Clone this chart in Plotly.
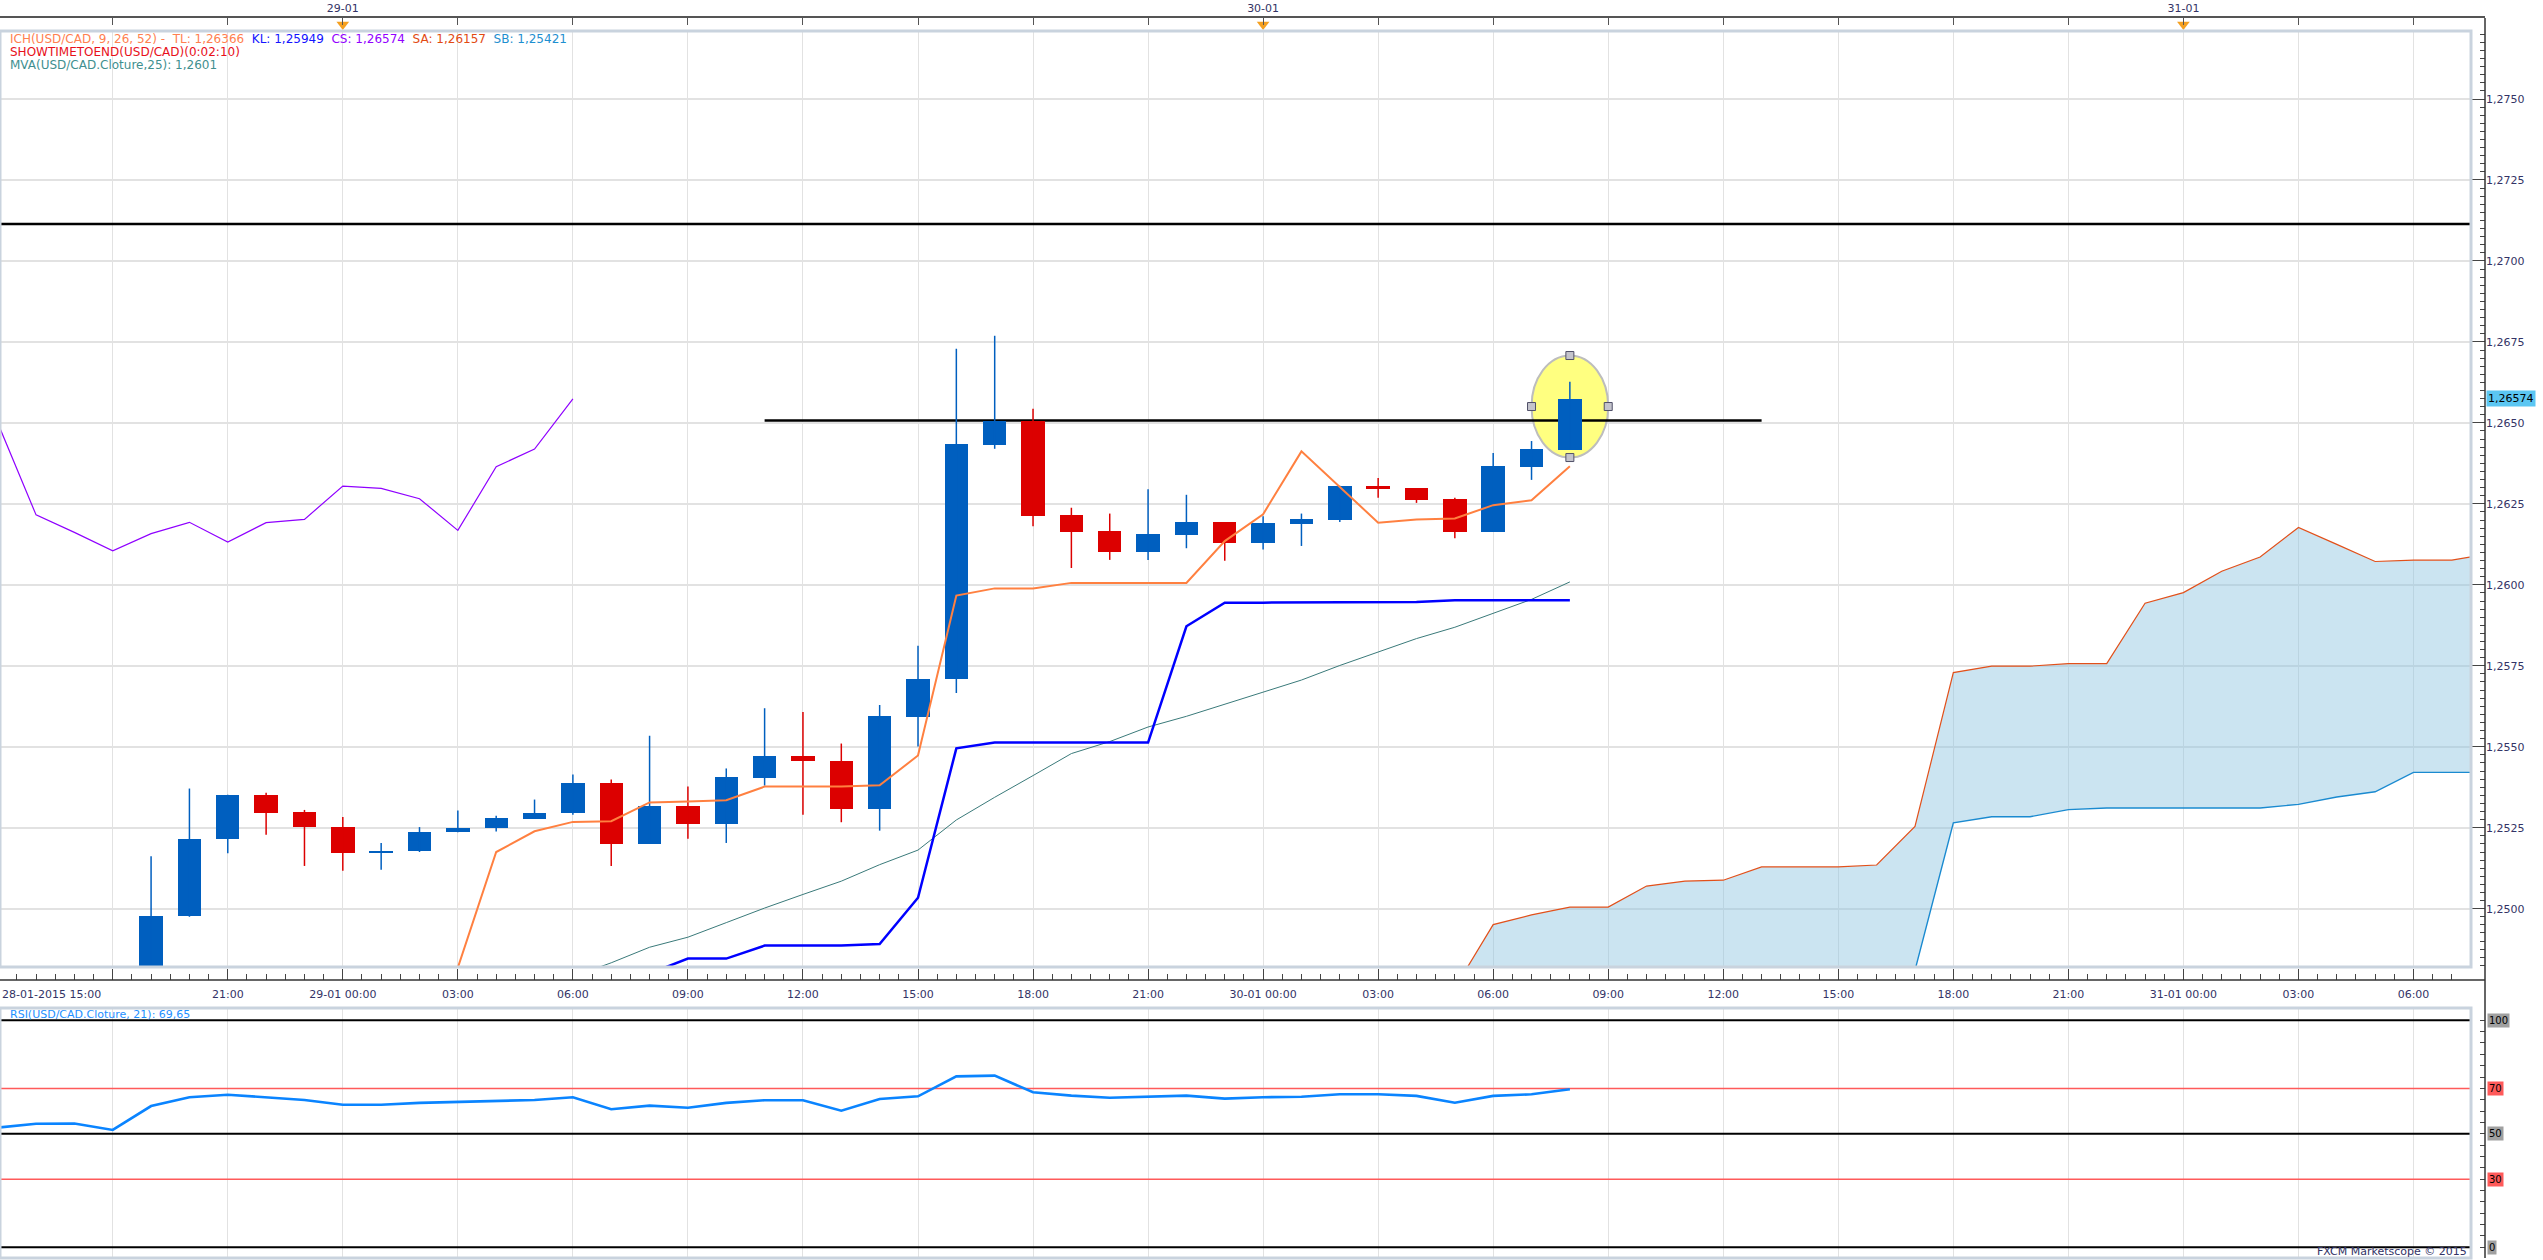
import pandas as pd
import plotly.graph_objects as go

# hourly candles, 28-01-2015 19:00 -> 30-01-2015 08:00
candle_start = "2015-01-28 19:00"
opens = [1.24780, 1.24978, 1.25215, 1.25351, 1.25299, 1.25253, 1.25171, 1.25177, 1.25236, 1.25248,
         1.25277, 1.25294, 1.25389, 1.25200, 1.25318, 1.25262, 1.25404, 1.25472, 1.25456, 1.25309,
         1.25592, 1.25708, 1.26433, 1.26506, 1.26216, 1.26166, 1.26101, 1.26155, 1.26194, 1.26129,
         1.26188, 1.26201, 1.26306, 1.26299, 1.26265, 1.26164, 1.26365, 1.26417]
highs = [1.25162, 1.25371, 1.25352, 1.25358, 1.25305, 1.25283, 1.25203, 1.25252, 1.25303, 1.25287,
         1.25337, 1.25414, 1.25399, 1.25534, 1.25377, 1.25433, 1.25619, 1.25607, 1.25510, 1.25629,
         1.25812, 1.26729, 1.26769, 1.26544, 1.26238, 1.26220, 1.26295, 1.26278, 1.26194, 1.26212,
         1.26220, 1.26306, 1.26330, 1.26299, 1.26269, 1.26407, 1.26444, 1.26627]
lows = [1.24760, 1.24975, 1.25171, 1.25228, 1.25132, 1.25117, 1.25120, 1.25175, 1.25236, 1.25238,
        1.25277, 1.25290, 1.25132, 1.25200, 1.25216, 1.25203, 1.25380, 1.25290, 1.25267, 1.25241,
        1.25501, 1.25666, 1.26420, 1.26181, 1.26052, 1.26077, 1.26077, 1.26113, 1.26074, 1.26109,
        1.26120, 1.26194, 1.26269, 1.26253, 1.26144, 1.26164, 1.26324, 1.26417]
closes = [1.24978, 1.25216, 1.25351, 1.25296, 1.25252, 1.25171, 1.25179, 1.25237, 1.25250, 1.25281,
          1.25296, 1.25389, 1.25200, 1.25318, 1.25262, 1.25408, 1.25472, 1.25455, 1.25309, 1.25596,
          1.25710, 1.26435, 1.26506, 1.26212, 1.26164, 1.26101, 1.26157, 1.26194, 1.26129, 1.26191,
          1.26202, 1.26306, 1.26297, 1.26262, 1.26164, 1.26367, 1.26420, 1.26574]

# ichimoku lines
tenkan_start = "2015-01-29 03:00"
tenkan = [1.24818, 1.25175, 1.25239, 1.25268, 1.25270, 1.25328, 1.25331, 1.25335, 1.25377, 1.25377,
          1.25377, 1.25381, 1.25473, 1.25967, 1.25989, 1.25989, 1.26006, 1.26006, 1.26006, 1.26006,
          1.26135, 1.26218, 1.26412, 1.26303, 1.26192, 1.26202, 1.26205, 1.26246, 1.26261, 1.26366]
kijun_start = "2015-01-29 08:00"
kijun = [1.24800, 1.24846, 1.24846, 1.24886, 1.24886, 1.24886, 1.24891, 1.25034, 1.25495, 1.25513,
         1.25513, 1.25513, 1.25513, 1.25513, 1.25872, 1.25945, 1.25945, 1.25945, 1.25945, 1.25945,
         1.25947, 1.25952, 1.25952, 1.25952, 1.25952]
chikou_start = "2015-01-28 14:00"
chikou = [1.26435, 1.26500, 1.26216, 1.26162, 1.26105, 1.26158, 1.26193, 1.26132, 1.26192, 1.26202,
          1.26305, 1.26298, 1.26266, 1.26168, 1.26365, 1.26419, 1.26574]
cloud_start = "2015-01-30 05:00"
span_a = [1.24755, 1.24951, 1.24981, 1.25005, 1.25005, 1.25070, 1.25085, 1.25088, 1.25129, 1.25129,
          1.25129, 1.25135, 1.25254, 1.25729, 1.25749, 1.25749, 1.25757, 1.25757, 1.25943, 1.25976,
          1.26042, 1.26086, 1.26177, 1.26125, 1.26072, 1.26076, 1.26076, 1.26097]
span_b = [1.24650, 1.24660, 1.24660, 1.24670, 1.24670, 1.24690, 1.24700, 1.24700, 1.24720, 1.24740,
          1.24760, 1.24780, 1.24810, 1.25265, 1.25284, 1.25284, 1.25306, 1.25311, 1.25311, 1.25311,
          1.25311, 1.25311, 1.25322, 1.25345, 1.25361, 1.25421, 1.25421, 1.25421]

# moving average 25
mva_start = "2015-01-29 06:00"
mva = [1.24790, 1.24833, 1.24881, 1.24912, 1.24957, 1.25002, 1.25044, 1.25085, 1.25136, 1.25181,
       1.25274, 1.25344, 1.25411, 1.25479, 1.25516, 1.25561, 1.25594, 1.25631, 1.25670, 1.25706,
       1.25751, 1.25793, 1.25834, 1.25869, 1.25913, 1.25955, 1.26009]

# RSI(21)
rsi_start = "2015-01-28 15:00"
rsi = [52.7, 54.4, 54.5, 51.7, 62.2, 66.1, 67.2, 66.2, 64.9, 62.8,
       62.8, 63.6, 64.1, 64.4, 64.9, 66.1, 60.8, 62.4, 61.5, 63.6,
       64.8, 64.8, 60.2, 65.3, 66.5, 75.3, 75.6, 68.3, 66.8, 65.9,
       66.3, 66.8, 65.5, 66.1, 66.3, 67.4, 67.4, 66.7, 63.7, 66.7,
       67.4, 69.65]
rsi_levels = [100, 70, 50, 30, 0]

# drawn objects
resistance_level = 1.26507
resistance_from, resistance_to = "2015-01-29 11:00", "2015-01-30 13:00"
upper_level = 1.27114
ellipse_t0, ellipse_t1 = "2015-01-30 07:00", "2015-01-30 09:00"
ellipse_p0, ellipse_p1 = 1.26393, 1.26708
last_price = 1.26574
day_marks = ["2015-01-29", "2015-01-30", "2015-01-31"]

UP, DOWN = "#005FBF", "#DC0000"
FONT = "DejaVu Sans"
TXT = "#333366"
GRID = "#E2E2E2"
FRAME = "#C9D3DE"


def hours(start, n):
    return pd.date_range(start, periods=n, freq="h")


t_c = hours(candle_start, len(opens))
colors = [UP if c >= o else DOWN for o, c in zip(opens, closes)]

fig = go.Figure()

# candle bodies
fig.add_trace(go.Bar(
    x=t_c, y=[abs(c - o) for o, c in zip(opens, closes)],
    base=[min(o, c) for o, c in zip(opens, closes)],
    width=0.61 * 3600 * 1000, marker=dict(color=colors, line=dict(width=0)),
    xaxis="x", yaxis="y"))

# wicks
for col in (UP, DOWN):
    wx, wy = [], []
    for t, h, l, c in zip(t_c, highs, lows, colors):
        if c == col:
            wx += [t, t, None]
            wy += [l, h, None]
    fig.add_trace(go.Scatter(x=wx, y=wy, mode="lines", line=dict(color=col, width=1.5),
                             xaxis="x", yaxis="y"))

# cloud
t_cloud = hours(cloud_start, len(span_a))
fig.add_trace(go.Scatter(x=t_cloud, y=span_b, mode="lines", line=dict(color="#1A8AD0", width=1.4),
                         xaxis="x", yaxis="y"))
fig.add_trace(go.Scatter(x=t_cloud, y=span_a, mode="lines", line=dict(color="#E2501A", width=1.2),
                         fill="tonexty", fillcolor="rgba(140,195,225,0.45)", xaxis="x", yaxis="y"))

fig.add_trace(go.Scatter(x=hours(chikou_start, len(chikou)), y=chikou, mode="lines",
                         line=dict(color="#8F00FF", width=1.2), xaxis="x", yaxis="y"))
fig.add_trace(go.Scatter(x=hours(mva_start, len(mva)), y=mva, mode="lines",
                         line=dict(color="#3A7A7A", width=1), xaxis="x", yaxis="y"))
fig.add_trace(go.Scatter(x=hours(kijun_start, len(kijun)), y=kijun, mode="lines",
                         line=dict(color="#0000FF", width=2.5), xaxis="x", yaxis="y"))
fig.add_trace(go.Scatter(x=hours(tenkan_start, len(tenkan)), y=tenkan, mode="lines",
                         line=dict(color="#FF8040", width=2), xaxis="x", yaxis="y"))

# ellipse handles
e_mid_t = pd.Timestamp(ellipse_t0) + (pd.Timestamp(ellipse_t1) - pd.Timestamp(ellipse_t0)) / 2
e_mid_p = (ellipse_p0 + ellipse_p1) / 2
fig.add_trace(go.Scatter(
    x=[ellipse_t0, ellipse_t1, e_mid_t, e_mid_t], y=[e_mid_p, e_mid_p, ellipse_p1, ellipse_p0],
    mode="markers", marker=dict(symbol="square", size=8, color="#C4C4CC",
                                line=dict(color="#505068", width=1)),
    xaxis="x", yaxis="y"))

# RSI
fig.add_trace(go.Scatter(x=hours(rsi_start, len(rsi)), y=rsi, mode="lines",
                         line=dict(color="#0A84FF", width=2.6), xaxis="x2", yaxis="y2"))

# day markers on the top axis
fig.add_trace(go.Scatter(x=day_marks, y=[0.5] * len(day_marks), mode="markers",
                         marker=dict(symbol="triangle-down", size=11, color="#F5A020"),
                         cliponaxis=False, xaxis="x3", yaxis="y3"))

# geometry
W, H = 2543, 1260
ML, MR, MT, MB = 0, 58, 18, 2
PW, PH = W - ML - MR, H - MT - MB


def py(y):
    return (H - MB - y) / PH


x_dom_r = 2471 / PW
x0 = pd.Timestamp("2015-01-28 15:03:36")
x1 = pd.Timestamp("2015-01-31 07:30:00")
x3_end = x0 + (x1 - x0) / x_dom_r

tick_times = pd.date_range("2015-01-28 18:00", "2015-01-31 06:00", freq="3h")
tick_text = [t.strftime("%d-%m %H:%M") if t.hour == 0 else t.strftime("%H:%M") for t in tick_times]
tick_text[0] = ""
top_text = [t.strftime("%d-%m") if t.hour == 0 else "" for t in tick_times]

tickfont = dict(family=FONT, size=11, color=TXT)

fig.update_layout(
    width=W, height=H, margin=dict(l=ML, r=MR, t=MT, b=MB),
    paper_bgcolor="white", plot_bgcolor="white", showlegend=False,
    separators=", ", bargap=0, hovermode=False,
    font=dict(family=FONT, size=11, color=TXT),
    xaxis=dict(domain=[0, x_dom_r], range=[x0, x1], anchor="free", position=py(980),
               tickmode="array", tickvals=tick_times, ticktext=tick_text,
               ticks="inside", ticklen=11, tickcolor="#444", tickwidth=1,
               minor=dict(ticks="inside", ticklen=6, tickcolor="#444", dtick=1800000,
                          tick0="2015-01-28 15:00", showgrid=False),
               tickfont=tickfont, ticklabelstandoff=6,
               showgrid=True, gridcolor=GRID, gridwidth=1, showline=False, zeroline=False),
    xaxis2=dict(domain=[0, x_dom_r], matches="x", anchor="y2", tickmode="linear",
                tick0="2015-01-28 15:00", dtick=10800000, showticklabels=False, ticks="",
                showgrid=True, gridcolor=GRID, showline=False, zeroline=False),
    xaxis3=dict(domain=[0, 1], range=[x0, x3_end], anchor="y3", side="top",
                tickmode="array", tickvals=tick_times, ticktext=top_text,
                ticks="inside", ticklen=7, tickcolor="#555", tickfont=tickfont,
                showline=True, linecolor="#555", linewidth=1.5, showgrid=False, zeroline=False),
    yaxis=dict(domain=[py(967), py(31)], range=[1.2482, 1.2771], anchor="free", position=1,
               side="right", tickmode="linear", tick0=1.25, dtick=0.0025, tickformat=".4f",
               ticks="inside", ticklen=14, tickcolor="#444",
               minor=dict(ticks="inside", ticklen=5, dtick=0.00025, tickcolor="#444", showgrid=False),
               tickfont=tickfont, showgrid=True, gridcolor=GRID, gridwidth=1.5,
               showline=False, zeroline=False),
    yaxis2=dict(domain=[0, py(1008)], range=[-4.7, 105.4], anchor="free", position=1,
                side="right", tickmode="linear", tick0=0, dtick=5, ticks="inside", ticklen=5,
                tickcolor="#444", showticklabels=False, showgrid=False, showline=False,
                zeroline=False),
    yaxis3=dict(domain=[py(31), 1], range=[0, 1], anchor="x3", visible=False),
)

shapes = [
    dict(type="circle", xref="x", yref="y", x0=ellipse_t0, x1=ellipse_t1, y0=ellipse_p0,
         y1=ellipse_p1, fillcolor="#FFFF80", line=dict(color="#BDBDBD", width=2), layer="between"),
    dict(type="line", xref="x", yref="y", x0=resistance_from, x1=resistance_to,
         y0=resistance_level, y1=resistance_level, line=dict(color="black", width=2.5),
         layer="between"),
    dict(type="line", xref="x", yref="y", x0=x0, x1=x1, y0=upper_level, y1=upper_level,
         line=dict(color="black", width=2.5), layer="between"),
]
for lv in rsi_levels:
    black = lv in (0, 50, 100)
    shapes.append(dict(type="line", xref="x2", yref="y2", x0=x0, x1=x1, y0=lv, y1=lv,
                       line=dict(color="black" if black else "#FF5A5A", width=2 if black else 1.5),
                       layer="between"))
for xr, yr in (("x domain", "y domain"), ("x2 domain", "y2 domain")):
    shapes.append(dict(type="rect", xref=xr, yref=yr, x0=0, x1=1, y0=0, y1=1,
                       line=dict(color=FRAME, width=3), layer="above"))
shapes.append(dict(type="line", xref="paper", yref="paper", x0=0, x1=1, y0=py(980), y1=py(980),
                   line=dict(color="#333", width=1.5)))
shapes.append(dict(type="line", xref="paper", yref="paper", x0=1, x1=1, y0=0, y1=1,
                   line=dict(color="#333", width=1.5)))
fig.update_layout(shapes=shapes)


def span(txt, col):
    return f"<span style='color:{col}'>{txt}</span>"


sp = "\u00a0\u00a0"
legend1 = (span("ICH(USD/CAD, 9, 26, 52) -" + sp + "TL: 1,26366", "#FF7F50") + sp
           + span("KL: 1,25949", "#1414FF") + sp + span("CS: 1,26574", "#9300FF") + sp
           + span("SA: 1,26157", "#E24A12") + sp + span("SB: 1,25421", "#1E8FD0"))
lfont = 12

ann = [
    dict(text=legend1, x=8 / PW, y=py(39), xref="paper", yref="paper", xanchor="left",
         yanchor="middle", showarrow=False, font=dict(family=FONT, size=lfont)),
    dict(text="SHOWTIMETOEND(USD/CAD)(0:02:10)", x=8 / PW, y=py(52), xref="paper", yref="paper",
         xanchor="left", yanchor="middle", showarrow=False,
         font=dict(family=FONT, size=lfont, color="#E8101A")),
    dict(text="MVA(USD/CAD.Cloture,25): 1,2601", x=8 / PW, y=py(65), xref="paper", yref="paper",
         xanchor="left", yanchor="middle", showarrow=False,
         font=dict(family=FONT, size=lfont, color="#3F8F8F")),
    dict(text="RSI(USD/CAD.Cloture, 21): 69,65", x=8 / PW, y=py(1014), xref="paper", yref="paper",
         xanchor="left", yanchor="middle", showarrow=False,
         font=dict(family=FONT, size=11, color="#1E90FF")),
    dict(text="FXCM Marketscope © 2015", x=2469 / PW, y=py(1251), xref="paper", yref="paper",
         xanchor="right", yanchor="middle", showarrow=False,
         font=dict(family=FONT, size=11, color=TXT)),
    dict(text="28-01-2015 15:00", x=0, y=py(994), xref="paper", yref="paper",
         xanchor="left", yanchor="middle", showarrow=False, font=tickfont),
    dict(text="1,26574", x=1, y=last_price, xref="paper", yref="y", xanchor="left",
         yanchor="middle", xshift=1, showarrow=False, bgcolor="#5BC6F2", borderpad=1,
         font=dict(family=FONT, size=11, color="black")),
]
for lv in rsi_levels:
    bg = "#A0A0A0" if lv in (0, 50, 100) else "#FF5A5A"
    ann.append(dict(text=str(lv), x=1, y=lv, xref="paper", yref="y2", xanchor="left",
                    yanchor="middle", xshift=2, showarrow=False, bgcolor=bg, borderpad=1,
                    font=dict(family=FONT, size=10, color="black")))
fig.update_layout(annotations=ann)

# the page body has a default 8px margin; drop it so the figure sits at the window corner
fig.write_html("out.html", config={"displayModeBar": False},
               post_script="document.body.style.margin='0px';")
